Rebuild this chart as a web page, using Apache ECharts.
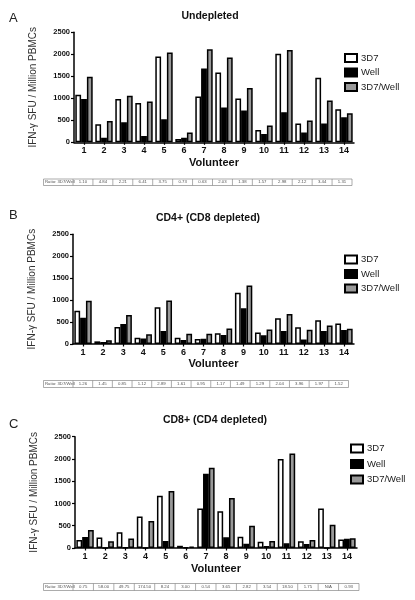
<!DOCTYPE html>
<html>
<head>
<meta charset="utf-8">
<script src="https://cdn.jsdelivr.net/npm/echarts@6/dist/echarts.min.js"></script>
<style>
html,body{margin:0;padding:0;background:#fff;}
#chart{width:415px;height:600px;}
</style>
</head>
<body>
<div id="chart"></div>
<script>
// ---- data ----
const volunteers = ['1','2','3','4','5','6','7','8','9','10','11','12','13','14'];
const seriesNames = ['3D7', 'Well', '3D7/Well'];
const panelTitles = ['Undepleted', 'CD4+ (CD8 depleted)', 'CD8+ (CD4 depleted)'];
const panelLetters = ['A', 'B', 'C'];
const yAxisName = 'IFN-\u03b3 SFU / Million PBMCs';
const xAxisName = 'Volunteer';
const ratioLabel = 'Ratio: 3D7/Well';

// Panel A: Undepleted
const undepleted3D7   = [1080, 410, 985, 895, 1950, 75, 1040, 1585, 995, 280, 2010, 425, 1465, 750];
const undepletedWell  = [985, 105, 455, 145, 525, 105, 1675, 790, 720, 190, 685, 220, 425, 570];
const undepletedMix   = [1490, 485, 1060, 925, 2040, 220, 2115, 1925, 1235, 380, 2100, 495, 950, 660];
const undepletedRatio = ['1.10','4.84','2.21','6.41','3.75','0.73','0.63','2.03','1.38','1.57','2.98','2.12','3.44','1.31'];

// Panel B: CD4+ (CD8 depleted)
const cd4_3D7   = [755, 60, 390, 145, 835, 145, 115, 245, 1170, 260, 585, 380, 540, 465];
const cd4Well   = [600, 45, 455, 125, 295, 90, 120, 205, 815, 200, 295, 100, 295, 320];
const cd4Mix    = [985, 85, 660, 220, 990, 235, 235, 355, 1335, 330, 685, 325, 420, 350];
const cd4Ratio  = ['1.26','1.45','0.85','1.12','2.89','1.61','0.95','1.17','1.49','1.29','2.04','3.96','1.97','1.52'];

// Panel C: CD8+ (CD4 depleted)
const cd8_3D7   = [180, 235, 355, 705, 1175, 50, 885, 825, 255, 140, 2000, 150, 885, 190];
const cd8Well   = [245, 4, 7, 4, 155, 15, 1665, 240, 95, 45, 105, 90, 0, 210];
const cd8Mix    = [405, 150, 215, 605, 1280, 30, 1805, 1125, 500, 155, 2120, 180, 525, 220];
const cd8Ratio  = ['0.75','58.00','49.75','174.50','8.24','3.00','0.54','3.65','2.82','3.54','18.50','1.75','N/A','0.93'];

const yMin = 0, yMax = 2500, yInterval = 500;

// ---- layout ----
const FONT = 'Liberation Sans, Arial, sans-serif';
const panels = [
  {grid:{left:74, top:32.3, width:280, height:110}, legendTop:48, legendLeft:339, itemGap:4.5, letterY:19, titleY:16.5, titleX:210,
   table:{top:179, left:43.5, right:352, h:6.5}, nameGapX:15, data:[undepleted3D7, undepletedWell, undepletedMix], ratio: undepletedRatio},
  {grid:{left:73, top:234.3, width:281, height:109.7}, legendTop:249.5, legendLeft:339, itemGap:4.5, letterY:216, titleY:217.7, titleX:208,
   table:{top:380.5, left:43.5, right:348.5, h:7}, nameGapX:14.5, data:[cd4_3D7, cd4Well, cd4Mix], ratio: cd4Ratio},
  {grid:{left:75, top:436.7, width:282, height:111.3}, legendTop:438.5, legendLeft:345, itemGap:5.5, letterY:425, titleY:420, titleX:215,
   table:{top:583.5, left:43.5, right:359, h:7}, nameGapX:15.5, data:[cd8_3D7, cd8Well, cd8Mix], ratio: cd8Ratio}
];

const fills = ['#ffffff', '#000000', '#999999'];

const grids = [], xAxes = [], yAxes = [], series = [], legends = [], graphics = [];

panels.forEach((p, i) => {
  grids.push(Object.assign({containLabel:false}, p.grid));
  xAxes.push({
    type:'category', gridIndex:i, data:volunteers,
    name:xAxisName, nameLocation:'middle', nameGap:p.nameGapX,
    nameTextStyle:{fontFamily:FONT, fontWeight:'bold', fontSize:11, color:'#111'},
    axisLine:{lineStyle:{color:'#000', width:1.5}},
    axisTick:{show:true, alignWithLabel:true, length:2.5, lineStyle:{color:'#000', width:1.2}},
    axisLabel:{fontFamily:FONT, fontWeight:'bold', fontSize:9, color:'#111', margin:4, interval:0}
  });
  yAxes.push({
    type:'value', gridIndex:i, min:yMin, max:yMax, interval:yInterval,
    name:yAxisName, nameLocation:'middle', nameGap:36, nameRotate:90,
    nameTextStyle:{fontFamily:FONT, fontSize:10, color:'#333'},
    axisLine:{show:true, lineStyle:{color:'#000', width:1.5}},
    axisTick:{show:true, length:3, lineStyle:{color:'#000', width:1.2}},
    axisLabel:{fontFamily:FONT, fontWeight:'bold', fontSize:7.5, color:'#111', margin:4, formatter:(v) => String(v)},
    splitLine:{show:false}
  });
  seriesNames.forEach((nm, k) => {
    series.push({
      type:'bar', name:nm, xAxisIndex:i, yAxisIndex:i, data:p.data[k],
      barWidth:5.8, barGap:'0%',
      itemStyle:{color:fills[k], borderColor:'#000', borderWidth:1.5},
      emphasis:{disabled:true}, animation:false
    });
  });
  legends.push({
    orient:'vertical', left:p.legendLeft, top:p.legendTop, itemWidth:12, itemHeight:8, itemGap:p.itemGap,
    icon:'rect', data:seriesNames, selectedMode:false,
    textStyle:{fontFamily:FONT, fontSize:9.5, color:'#222', padding:[0,0,0,-1]}
  });
  graphics.push({type:'text', left:9, top:p.letterY-7, style:{text:panelLetters[i], fontFamily:FONT, fontSize:13, fill:'#222'}});
  graphics.push({type:'text', x:p.titleX, y:p.titleY, style:{text:panelTitles[i], fontFamily:FONT, fontWeight:'bold', fontSize:10.5, fill:'#111', align:'center', verticalAlign:'middle'}});
  // table
  const t = p.table;
  const labelW = 29.5;
  const cellW = (t.right - t.left - labelW) / p.ratio.length;
  graphics.push({type:'rect', shape:{x:t.left, y:t.top, width:t.right - t.left, height:t.h}, style:{fill:'#fff', stroke:'#888', lineWidth:0.7}});
  graphics.push({type:'text', x:t.left + 1.5, y:t.top + t.h/2, style:{text:ratioLabel, fontFamily:FONT, fontSize:4.3, fill:'#555', verticalAlign:'middle'}});
  p.ratio.forEach((r, j) => {
    const x0 = t.left + labelW + j*cellW;
    graphics.push({type:'line', shape:{x1:x0, y1:t.top, x2:x0, y2:t.top + t.h}, style:{stroke:'#888', lineWidth:0.7}});
    graphics.push({type:'text', x:x0 + cellW/2, y:t.top + t.h/2, style:{text:r, fontFamily:FONT, fontSize:4.3, fill:'#555', align:'center', verticalAlign:'middle'}});
  });
});

const chart = echarts.init(document.getElementById('chart'), null, {renderer:'canvas'});
chart.setOption({
  backgroundColor:'#ffffff',
  animation:false,
  grid:grids, xAxis:xAxes, yAxis:yAxes, series:series, legend:legends,
  graphic:graphics
});
</script>
</body>
</html>
